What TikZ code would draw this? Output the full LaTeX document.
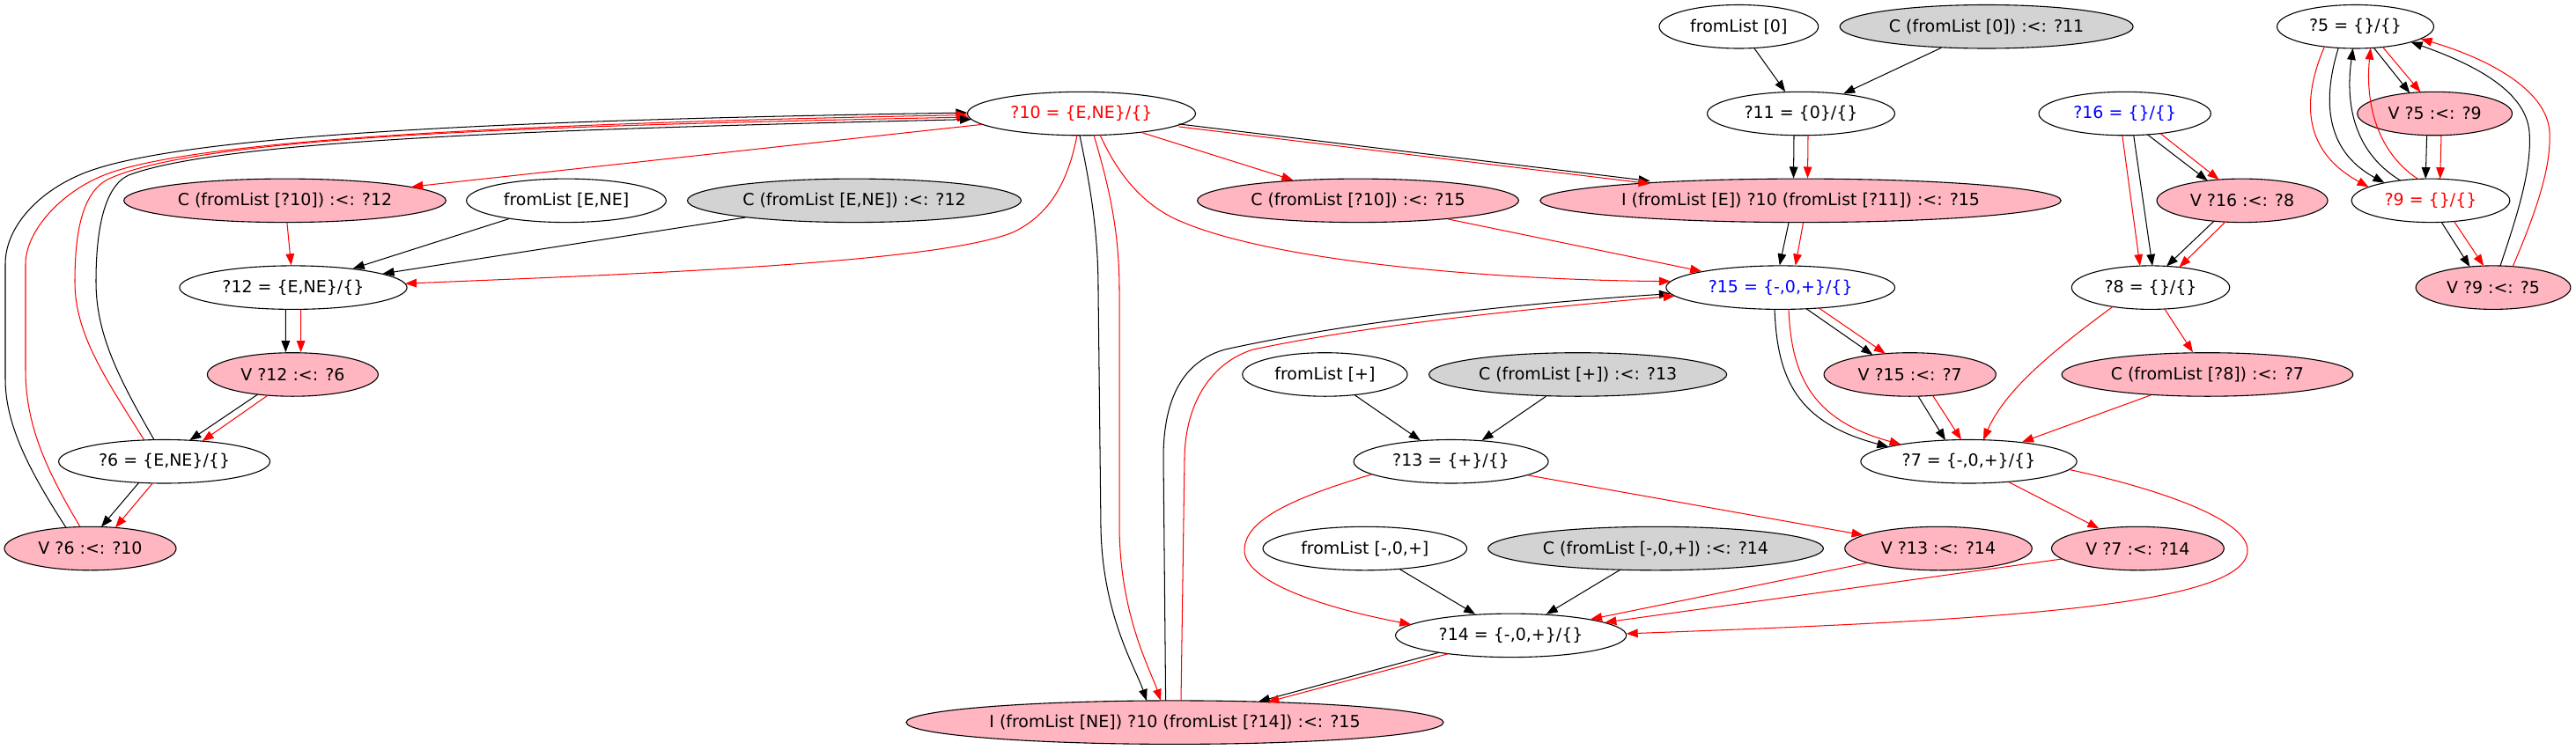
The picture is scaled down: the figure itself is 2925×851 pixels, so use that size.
\documentclass[tikz,border=0pt]{standalone}
\usepackage{fontspec}
\setmainfont{DejaVu Sans}
\usetikzlibrary{shapes.geometric,arrows.meta}
\definecolor{lpink}{HTML}{FFB6C1}
\definecolor{lgray}{HTML}{D3D3D3}
\begin{document}
\begin{tikzpicture}[x=0.72727pt,y=-0.72727pt,
  font=\fontsize{13.8pt}{16pt}\selectfont,
  wn/.style={ellipse,draw=black,line width=0.8pt,fill=white,inner xsep=0pt,inner ysep=2pt,minimum height=36pt,minimum width={#1*0.72727pt}},
  pn/.style={wn=#1,fill=lpink},
  gn/.style={wn=#1,fill=lgray},
  be/.style={draw=black,line width=0.75pt,-{Triangle[length=9.5pt,width=7pt]}},
  re/.style={draw=red,line width=0.75pt,-{Triangle[length=9.5pt,width=7pt]}}]
\useasboundingbox (0,0) rectangle (2925,851);
% nodes
\node[wn=180.7] (fl0) at (1974.3,30.25) {fromList [0]};
\node[gn=333] (c11) at (2255.6,30.25) {C (fromList [0]) :<: ?11};
\node[wn=178] (n5) at (2674.5,30.25) {?5 = \{\}/\{\}};
\node[wn=259,text=red] (n10) at (1228,129.05) {?10 = \{E,NE\}/\{\}};
\node[wn=213] (n11) at (2045,129.05) {?11 = \{0\}/\{\}};
\node[wn=195.3,text=blue] (n16) at (2412.7,129.05) {?16 = \{\}/\{\}};
\node[pn=175.8] (v5) at (2764.6,129.05) {V ?5 :<: ?9};
\node[pn=365.7] (c12a) at (323.5,227.85) {C (fromList [?10]) :<: ?12};
\node[wn=226.7] (flENE) at (643,227.85) {fromList [E,NE]};
\node[gn=379] (c12b) at (970,227.85) {C (fromList [E,NE]) :<: ?12};
\node[pn=364.8] (c15) at (1542,227.85) {C (fromList [?10]) :<: ?15};
\node[pn=591.4] (i15a) at (2044.5,227.85) {I (fromList [E]) ?10 (fromList [?11]) :<: ?15};
\node[pn=194] (v16) at (2546,227.85) {V ?16 :<: ?8};
\node[wn=179.6,text=red] (n9) at (2760,227.85) {?9 = \{\}/\{\}};
\node[wn=258.3] (n12) at (333,326.65) {?12 = \{E,NE\}/\{\}};
\node[wn=259.8,text=blue] (n15) at (2021.7,326.65) {?15 = \{-,0,+\}/\{\}};
\node[wn=179.4] (n8) at (2442,326.65) {?8 = \{\}/\{\}};
\node[pn=175.8] (v9) at (2831,326.65) {V ?9 :<: ?5};
\node[pn=194] (v12) at (332.4,425.45) {V ?12 :<: ?6};
\node[wn=187.3] (flp) at (1504.4,425.45) {fromList [+]};
\node[gn=338.1] (c13) at (1791.6,425.45) {C (fromList [+]) :<: ?13};
\node[pn=195.3] (v15) at (2168.7,425.45) {V ?15 :<: ?7};
\node[pn=330.7] (c7) at (2506.4,425.45) {C (fromList [?8]) :<: ?7};
\node[wn=240] (n6) at (186.6,524.25) {?6 = \{E,NE\}/\{\}};
\node[wn=221] (n13) at (1647.6,524.25) {?13 = \{+\}/\{\}};
\node[wn=245.4] (n7) at (2235.5,524.25) {?7 = \{-,0,+\}/\{\}};
\node[pn=195] (v6) at (102.5,623.05) {V ?6 :<: ?10};
\node[wn=231.6] (flm) at (1549.8,623.05) {fromList [-,0,+]};
\node[gn=380.9] (c14) at (1880,623.05) {C (fromList [-,0,+]) :<: ?14};
\node[pn=212.6] (v13) at (2201,623.05) {V ?13 :<: ?14};
\node[pn=195.8] (v7) at (2427.4,623.05) {V ?7 :<: ?14};
\node[wn=262.1] (n14) at (1715.6,721.85) {?14 = \{-,0,+\}/\{\}};
\node[pn=610] (i15b) at (1334,820.65) {I (fromList [NE]) ?10 (fromList [?14]) :<: ?15};
% single straight edges
\draw[be] (fl0) -- (n11);
\draw[be] (c11) -- (n11);
\draw[re] (n10) -- (c12a);
\draw[re] (n10) -- (c15);
\draw[re] (c15) -- (n15);
\draw[re] (c12a) -- (n12);
\draw[be] (flENE) -- (n12);
\draw[be] (c12b) -- (n12);
\draw[be] (flp) -- (n13);
\draw[be] (c13) -- (n13);
\draw[re] (n13) -- (v13);
\draw[be] (flm) -- (n14);
\draw[be] (c14) -- (n14);
\draw[re] (v13) -- (n14);
\draw[re] (v7) -- (n14);
\draw[re] (n7) -- (v7);
\draw[re] (n8) -- (c7);
\draw[re] (c7) -- (n7);
% paired straight edges
\draw[be,transform canvas={yshift=1.1pt}] (n10) -- (i15a);
\draw[re,transform canvas={yshift=-1.1pt}] (n10) -- (i15a);
\draw[be] ([shift={(-8,0)}]n11.south) -- ([shift={(-8,0)}]i15a.north);
\draw[re] ([shift={(8,0)}]n11.south) -- ([shift={(8,0)}]i15a.north);
\draw[be] ([shift={(-13.5,0)}]i15a.south) -- ([shift={(-1,0)}]n15.north);
\draw[re] ([shift={(3,0)}]i15a.south) -- ([shift={(17,0.3)}]n15.north);
\draw[be] ([shift={(-8.7,0)}]n12.south) -- ([shift={(-8,0)}]v12.north);
\draw[re] ([shift={(8.6,0)}]n12.south) -- ([shift={(9.2,0)}]v12.north);
\draw[be] ([shift={(-39.6,22.5)}]v12.center) -- ([shift={(28.7,-24)}]n6.center);
\draw[re] ([shift={(-28.4,23.7)}]v12.center) -- ([shift={(43,-23.1)}]n6.center);
\draw[be] ([shift={(-28.9,24)}]n6.center) -- ([shift={(12.5,-24.5)}]v6.center);
\draw[re] ([shift={(-13.3,24.6)}]n6.center) -- ([shift={(28.5,-23.7)}]v6.center);
\draw[be] ([shift={(29.4,24.1)}]n15.center) -- ([shift={(-42.3,-22.3)}]v15.center);
\draw[re] ([shift={(43.7,23.3)}]n15.center) -- ([shift={(-27.9,-23.7)}]v15.center);
\draw[be] ([shift={(9.3,24.6)}]v15.center) -- ([shift={(-26.5,-24.1)}]n7.center);
\draw[re] ([shift={(25.9,23.9)}]v15.center) -- ([shift={(-8.5,-24.7)}]n7.center);
\draw[be] ([shift={(25.8,23.9)}]n16.center) -- ([shift={(-39.3,-22.6)}]v16.center);
\draw[re] ([shift={(40.2,22.5)}]n16.center) -- ([shift={(-26.4,-23.8)}]v16.center);
\draw[be] ([shift={(10,24.6)}]n16.center) -- ([shift={(2,-24.7)}]n8.center);
\draw[re] ([shift={(-2.9,24.7)}]n16.center) -- ([shift={(-12.1,-24.5)}]n8.center);
\draw[be] ([shift={(-32.1,23.4)}]v16.center) -- ([shift={(18,-24.2)}]n8.center);
\draw[re] ([shift={(-19.2,24.3)}]v16.center) -- ([shift={(32.4,-23.1)}]n8.center);
\draw[be] ([shift={(20.9,24.1)}]n5.center) -- ([shift={(-28.3,-23.4)}]v5.center);
\draw[re] ([shift={(31,23.2)}]n5.center) -- ([shift={(-16.1,-24.3)}]v5.center);
\draw[be] ([shift={(-9,24.6)}]v5.center) -- ([shift={(-5.8,-24.7)}]n9.center);
\draw[re] ([shift={(7.4,24.6)}]v5.center) -- ([shift={(10.7,-24.6)}]n9.center);
\draw[be] ([shift={(12.2,24.5)}]n9.center) -- ([shift={(-26.6,-23.6)}]v9.center);
\draw[re] ([shift={(26.5,23.6)}]n9.center) -- ([shift={(-10.8,-24.6)}]v9.center);
\draw[be] ([shift={(-81.6,19.4)}]n14.center) -- ([shift={(94.8,-23.5)}]i15b.center);
\draw[re] ([shift={(-71.1,20.8)}]n14.center) -- ([shift={(105.3,-23.2)}]i15b.center);
% curved edges
\draw[re] ([shift={(-5,24.7)}]n10.center) .. controls (1212,210) and (1190,245) .. (1150,264) .. controls (1060,300) and (700,312) .. ([shift={(127,-4.5)}]n12.center);
\draw[re] ([shift={(21,24)}]n10.center) .. controls (1270,200) and (1300,235) .. (1342,252) .. controls (1450,298) and (1700,318) .. ([shift={(-124.7,-7)}]n15.center);
\draw[be] ([shift={(-2,24.75)}]n10.center) .. controls (1240,220) and (1247,270) .. (1247,330) -- (1250,600) .. controls (1252,700) and (1290,760) .. ([shift={(-32,-24.5)}]i15b.center);
\draw[re] ([shift={(14,24.6)}]n10.center) .. controls (1262,220) and (1271,270) .. (1271,330) -- (1271,600) .. controls (1272,700) and (1306,760) .. ([shift={(-16,-24.7)}]i15b.center);
\draw[be] ([shift={(-10.4,-24.7)}]i15b.center) -- (1321,520) .. controls (1321,450) and (1345,410) .. (1391,397) .. controls (1550,362) and (1750,343) .. ([shift={(-124.7,7)}]n15.center);
\draw[re] ([shift={(7,-24.7)}]i15b.center) -- (1345,520) .. controls (1346,458) and (1375,412) .. (1423,397) .. controls (1570,366) and (1760,349) .. ([shift={(-120,9.5)}]n15.center);
\draw[be] ([shift={(-27.5,-23.7)}]v6.center) .. controls (30,530) and (6,480) .. (6,430) -- (6,300) .. controls (6,260) and (40,220) .. (92,198) .. controls (200,152) and (600,136) .. ([shift={(-129.5,-1)}]n10.center);
\draw[re] ([shift={(-11.5,-24.6)}]v6.center) .. controls (50,530) and (29,480) .. (29,420) -- (29,300) .. controls (29,262) and (70,218) .. (118,199) .. controls (220,158) and (600,140) .. ([shift={(-129.3,1.5)}]n10.center);
\draw[re] ([shift={(-23,-24.5)}]n6.center) .. controls (120,430) and (85,380) .. (85,320) .. controls (85,262) and (94,217) .. (124,203) .. controls (230,155) and (600,143) .. ([shift={(-127.8,4)}]n10.center);
\draw[be] ([shift={(-11.6,-24.7)}]n6.center) .. controls (135,430) and (109,380) .. (109,320) .. controls (109,262) and (118,212) .. (146,199) .. controls (250,160) and (600,147) .. ([shift={(-125,6.5)}]n10.center);
\draw[re] ([shift={(-89.6,14.5)}]n13.center) .. controls (1470,565) and (1413,590) .. (1413,625) .. controls (1413,660) and (1500,690) .. ([shift={(-113.2,-12.5)}]n14.center);
\draw[re] ([shift={(114,9.2)}]n7.center) .. controls (2450,555) and (2552,590) .. (2552,625) .. controls (2552,690) and (2250,705) .. ([shift={(131,-2)}]n14.center);
\draw[be] ([shift={(-6.7,24.7)}]n15.center) .. controls (2018,430) and (2040,480) .. ([shift={(-91,-16.6)}]n7.center);
\draw[re] ([shift={(9.3,24.6)}]n15.center) .. controls (2034,430) and (2060,478) .. ([shift={(-76.8,-19.3)}]n7.center);
\draw[re] ([shift={(-43,21.7)}]n8.center) .. controls (2340,392) and (2278,440) .. ([shift={(16.5,-24.4)}]n7.center);
\draw[re] ([shift={(-35.1,22.7)}]n5.center) .. controls (2615,110) and (2612,170) .. ([shift={(-70.4,-15.4)}]n9.center);
\draw[be] ([shift={(-19.3,24.2)}]n5.center) .. controls (2638,110) and (2638,170) .. ([shift={(-52.5,-20.1)}]n9.center);
\draw[be] ([shift={(-34.5,-22.9)}]n9.center) .. controls (2668,170) and (2664,110) .. ([shift={(-2.8,24.7)}]n5.center);
\draw[re] ([shift={(-14.4,-24.4)}]n9.center) .. controls (2695,170) and (2686,110) .. ([shift={(17.3,24.3)}]n5.center);
\draw[be] ([shift={(7.9,-24.6)}]v9.center) .. controls (2860,240) and (2875,190) .. (2872,150) .. controls (2868,100) and (2800,70) .. ([shift={(63,17.5)}]n5.center);
\draw[re] ([shift={(22.2,-24)}]v9.center) .. controls (2880,240) and (2897,190) .. (2895,150) .. controls (2892,100) and (2820,65) .. ([shift={(74,13.8)}]n5.center);
\end{tikzpicture}
\end{document}
